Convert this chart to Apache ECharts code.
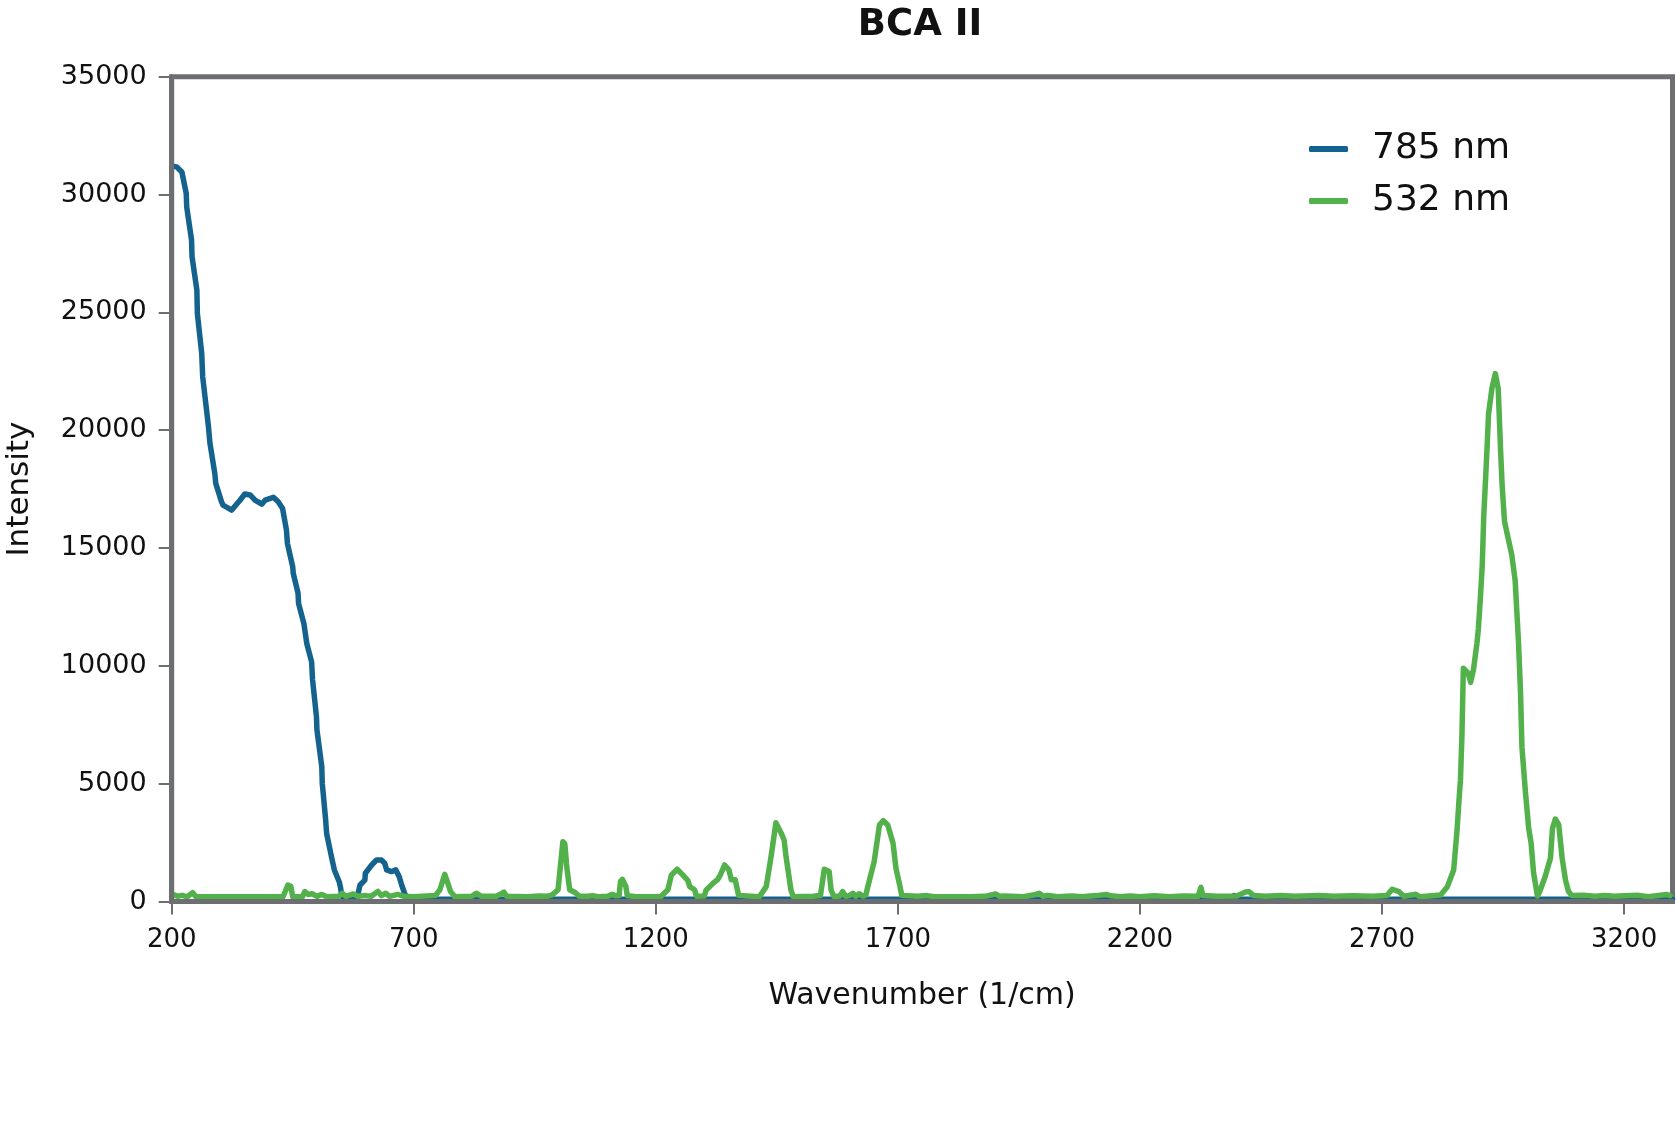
<!DOCTYPE html>
<html><head><meta charset="utf-8">
<script src="https://cdn.jsdelivr.net/npm/echarts@6/dist/echarts.min.js"></script>
<style>html,body{margin:0;padding:0;background:#fff}#chart{width:1676px;height:1125px}</style>
</head><body><div id="chart"></div>
<script>
const chartTitle = 'BCA II';
const seriesNames = ['785 nm', '532 nm'];
const xAxisName = 'Wavenumber (1/cm)';
const yAxisName = 'Intensity';

const wn785 = [203,210,221,230,231,241,242,252,253,262,264,276,279,289,291,303,306,324,341,351,362,372,386,393,410,420,429,437,439,450,451,461,462,473,479,489,491,499,500,510,511,518,520,530,536,546,549,551,555,583,585,589,599,600,613,623,633,640,644,654,663,670,675,681,688,2385,2394,2402,3300];
const int785 = [31200,31175,30960,30050,29480,28070,27360,25940,24950,23260,22270,20140,19450,18170,17740,16960,16820,16610,17030,17290,17250,17030,16860,17030,17150,16960,16680,15760,15200,14200,13930,13080,12650,11800,10950,10170,9400,7840,7280,5720,5020,3460,2890,1900,1340,840,560,280,100,100,350,700,910,1200,1550,1760,1760,1620,1340,1270,1340,1050,700,350,100,100,250,100,100];

const wn532 = [200,205,212,222,232,243,250,430,440,446,450,470,475,482,490,500,510,520,545,552,560,575,585,600,612,626,633,642,650,667,680,700,745,754,764,770,776,785,820,829,840,870,880,886,892,935,960,975,986,998,1008,1012,1016,1022,1034,1042,1060,1070,1080,1100,1110,1118,1124,1127,1131,1138,1141,1160,1210,1225,1232,1244,1256,1266,1270,1280,1284,1300,1304,1318,1328,1333,1342,1351,1356,1364,1371,1414,1428,1438,1448,1459,1465,1469,1479,1484,1525,1540,1548,1558,1562,1568,1580,1586,1592,1600,1607,1613,1620,1628,1634,1637,1651,1662,1670,1679,1690,1696,1703,1708,1740,1760,1775,1850,1880,1902,1910,1920,1960,1985,1992,2000,2010,2030,2060,2080,2110,2130,2140,2160,2180,2200,2230,2260,2290,2320,2326,2330,2360,2400,2410,2418,2425,2435,2460,2490,2520,2570,2600,2640,2680,2710,2721,2735,2745,2770,2778,2821,2835,2848,2855,2859,2862,2865,2868,2878,2883,2889,2896,2899,2903,2907,2910,2917,2920,2927,2934,2940,2945,2948,2953,2958,2968,2975,2982,2986,2989,2996,3003,3008,3013,3021,3026,3037,3048,3052,3058,3065,3072,3079,3085,3092,3120,3140,3160,3180,3200,3230,3250,3288,3295];
const int532 = [200,280,220,260,200,380,200,200,700,650,200,200,420,300,330,220,300,200,220,350,220,320,220,250,220,430,250,350,220,300,220,200,260,500,1150,800,420,200,220,350,220,220,320,400,220,200,230,220,280,500,2540,2450,1480,500,370,220,220,250,200,220,300,240,250,850,940,650,250,200,200,500,1120,1370,1120,900,630,500,220,230,490,770,940,1120,1550,1340,920,920,260,200,630,1900,3340,2900,2600,1900,490,200,220,250,1370,1270,490,200,230,420,220,250,350,220,330,230,280,560,1690,3250,3430,3250,2470,1410,770,260,220,250,200,200,220,320,220,230,200,300,350,220,260,200,230,200,250,300,240,200,230,200,240,200,230,220,600,250,220,230,330,400,420,250,220,250,220,250,220,240,220,250,520,420,220,310,200,280,630,1340,3030,4300,5150,7000,9900,9692,9300,9850,10948,11575,12830,14240,16280,19260,20680,21770,22400,21770,19100,17700,16130,15650,14710,13620,10950,8910,6550,4700,3100,2475,1220,230,435,1060,1850,3100,3500,3260,1850,906,435,250,260,220,250,220,240,260,200,300,250];

const BLUE = '#14638e';
const GREEN = '#52b14a';
const GRAY = '#6d6e71';
const FONT = 'DejaVu Sans';

const zip = (xs, ys) => xs.map((x, i) => [x, ys[i]]);
const plain = v => String(v);

const chart = echarts.init(document.getElementById('chart'), null, {renderer: 'canvas'});
chart.setOption({
  animation: false,
  backgroundColor: '#ffffff',
  title: {
    text: chartTitle, left: 915, top: 2, textAlign: 'center',
    textStyle: {fontFamily: FONT, fontWeight: 'bold', fontSize: 37, color: '#111'}
  },
  legend: {
    orient: 'vertical', left: 1304, top: 126,
    itemWidth: 39, itemHeight: 6, itemGap: 16,
    icon: 'roundRect',
    data: seriesNames,
    textStyle: {fontFamily: FONT, fontSize: 36, color: '#111', lineHeight: 36, padding: [0, 0, 0, 19]}
  },
  grid: {
    left: 171.7, right: 3.5, top: 76.7, bottom: 223.5,
    show: true, borderColor: GRAY, borderWidth: 5,
    containLabel: false, outerBoundsMode: 'none'
  },
  xAxis: {
    type: 'value', min: 200, max: 3300, interval: 500, z: 5,
    name: xAxisName, nameLocation: 'middle', nameGap: 80,
    nameTextStyle: {fontFamily: FONT, fontSize: 30, color: '#111'},
    axisLine: {show: true, lineStyle: {color: GRAY, width: 5}},
    axisTick: {show: true, length: 13, lineStyle: {color: GRAY, width: 2}},
    axisLabel: {fontFamily: FONT, fontSize: 26, color: '#111', margin: 26, showMaxLabel: false, formatter: plain},
    splitLine: {show: false}
  },
  yAxis: {
    type: 'value', min: 0, max: 35000, interval: 5000, z: 5,
    name: yAxisName, nameLocation: 'middle', nameGap: 136, nameRotate: 90,
    nameTextStyle: {fontFamily: FONT, fontSize: 31, color: '#111'},
    axisLine: {show: true, lineStyle: {color: GRAY, width: 5}},
    axisTick: {show: true, length: 13, lineStyle: {color: GRAY, width: 2}},
    axisLabel: {fontFamily: FONT, fontSize: 27, color: '#111', margin: 25, formatter: plain},
    splitLine: {show: false}
  },
  series: [
    {name: seriesNames[0], type: 'line', data: zip(wn785, int785), symbol: 'none',
     lineStyle: {color: BLUE, width: 5.5, cap: 'round', join: 'round'}, itemStyle: {color: BLUE}},
    {name: seriesNames[1], type: 'line', data: zip(wn532, int532), symbol: 'none',
     lineStyle: {color: GREEN, width: 5.5, cap: 'round', join: 'round'}, itemStyle: {color: GREEN}}
  ]
});
</script>
</body></html>
